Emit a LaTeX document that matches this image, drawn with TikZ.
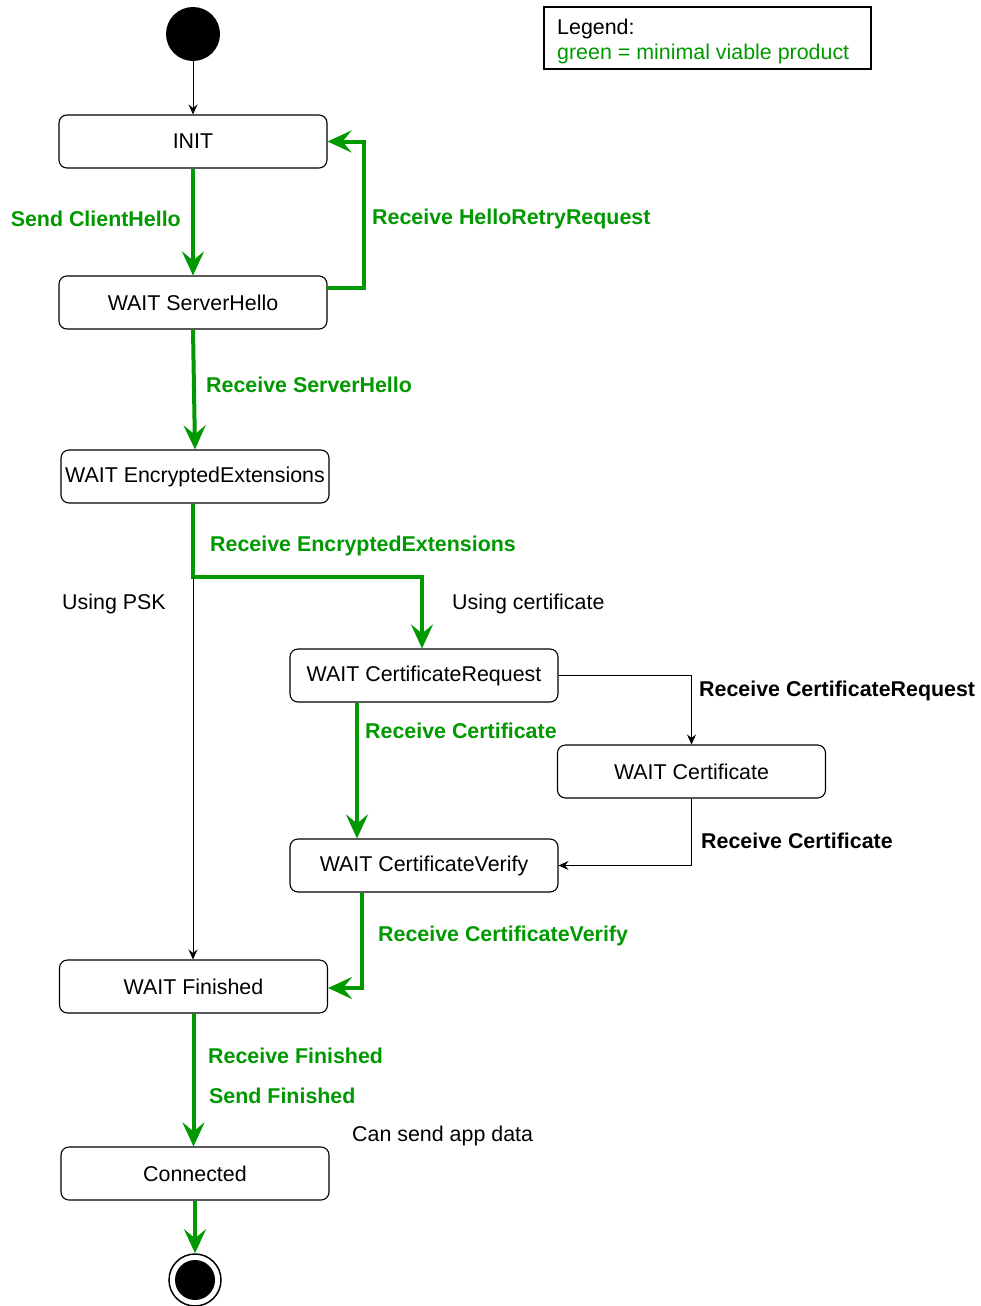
\documentclass[tikz,border=0pt]{standalone}
\usepackage{fontspec}
\setmainfont{Liberation Sans}
\usetikzlibrary{arrows.meta,calc}
\definecolor{mvp}{HTML}{009900}
\newcommand{\diagfont}{\fontsize{21.4}{25}\selectfont}
\tikzset{
  state/.style={draw=black, line width=1.1pt, rounded corners=8pt, fill=white,
    minimum width=268pt, minimum height=53pt, inner sep=0pt, font=\diagfont},
  thinarrow/.style={draw=black, line width=1pt, -{Stealth[length=10pt,width=9pt,inset=3.5pt]}},
  mvparrow/.style={draw=mvp, line width=4pt, -{Stealth[length=24pt,width=22pt,inset=9pt]}},
  mvplabel/.style={text=mvp, font=\diagfont\bfseries, inner sep=0pt, yshift=-2pt},
  blacklabel/.style={text=black, font=\diagfont\bfseries, inner sep=0pt, yshift=-2pt},
  note/.style={text=black, font=\diagfont, inner sep=0pt, yshift=-2pt},
}
\begin{document}
\begin{tikzpicture}[x=1pt, y=-1pt]
\useasboundingbox (0,0) rectangle (981,1306);
\fill[white] (0,0) rectangle (981,1306);

% legend
\node[draw=black, line width=1.1pt, minimum width=327pt, minimum height=62pt, inner sep=0pt] (legend) at (707.5,38) {};
\node[note, anchor=west] (legendtitle) at (557,27) {Legend:};
\node[note, anchor=west, text=mvp] (legendgreen) at (557,52) {green = minimal viable product};

% initial and final pseudo-states
\node[circle, fill=black, minimum size=54pt, inner sep=0pt] (start) at (193,34) {};
\node[circle, draw=black, line width=1.5pt, fill=white, minimum size=52pt, inner sep=0pt] (final) at (195,1280) {};
\node[circle, fill=black, minimum size=40pt, inner sep=0pt] (finaldot) at (195,1280) {};

% states
\node[state] (init) at (193,141.5) {INIT};
\node[state] (wsh) at (193,302.5) {WAIT ServerHello};
\node[state] (wee) at (195,476.5) {WAIT EncryptedExtensions};
\node[state] (wcr) at (424,675.5) {WAIT CertificateRequest};
\node[state] (wc) at (691.5,771.5) {WAIT Certificate};
\node[state] (wcv) at (424,865.5) {WAIT CertificateVerify};
\node[state] (wfin) at (193.5,986.5) {WAIT Finished};
\node[state] (conn) at (195,1173.5) {Connected};

\coordinate (split) at (193,577);

% transitions
\draw[thinarrow] (start.south) -- (init.north);
\draw[mvparrow] (init.south) -- (wsh.north);
\draw[mvparrow] ([yshift=14.5pt]wsh.east) -- ++(36,0) |- (init.east);
\draw[mvparrow] (wsh.south) -- (wee.north);
\draw[mvparrow] (wee.south -| split) -- (split) -| ([xshift=-2pt]wcr.north);
\draw[thinarrow] (split) -- (wfin.north -| split);
\draw[mvparrow] ([xshift=-67pt]wcr.south) -- ([xshift=-67pt]wcv.north);
\draw[thinarrow] (wcr.east) -| (wc.north);
\draw[thinarrow] (wc.south) |- (wcv.east);
\draw[mvparrow] ([xshift=-62pt]wcv.south) |- ([yshift=-1.5pt]wfin.east);
\draw[mvparrow] (wfin.south) -- (wfin.south |- conn.north);
\draw[mvparrow] (conn.south) -- (final.north);

% labels
\node[mvplabel, anchor=east] (lsch) at (181,217) {Send ClientHello};
\node[mvplabel, anchor=west] (lhrr) at (372,217) {Receive HelloRetryRequest};
\node[mvplabel, anchor=west] (lsh) at (206,383) {Receive ServerHello};
\node[mvplabel, anchor=west] (lee) at (210,544) {Receive EncryptedExtensions};
\node[note, anchor=west] (lpsk) at (62,602) {Using PSK};
\node[note, anchor=west] (lcert) at (452,602) {Using certificate};
\node[mvplabel, anchor=west] (lrc) at (365,729) {Receive Certificate};
\node[blacklabel, anchor=west] (lrcr) at (699,689) {Receive CertificateRequest};
\node[blacklabel, anchor=west] (lrc2) at (701,839) {Receive Certificate};
\node[mvplabel, anchor=west] (lcv) at (378,934) {Receive CertificateVerify};
\node[mvplabel, anchor=west] (lrf) at (208,1054) {Receive Finished};
\node[mvplabel, anchor=west] (lsf) at (209,1094) {Send Finished};
\node[note, anchor=west] (lapp) at (352,1134) {Can send app data};
\end{tikzpicture}
\end{document}
